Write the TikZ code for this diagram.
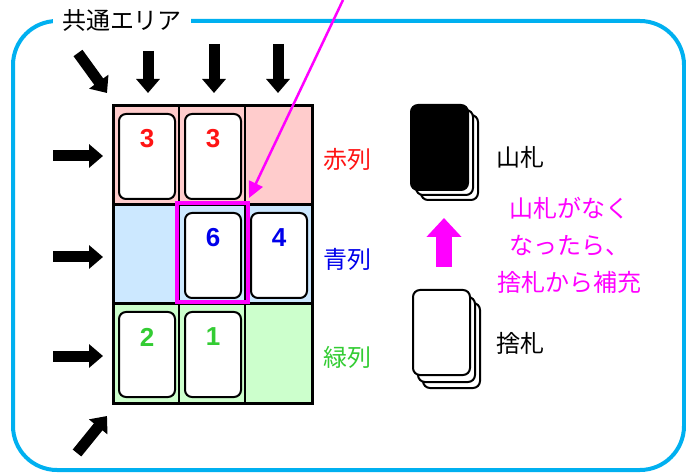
\documentclass[tikz,border=0pt]{standalone}
\usepackage{fontspec}
\newfontfamily\jp{Noto Sans CJK JP}
\newfontfamily\numf{Liberation Sans}
\usetikzlibrary{arrows.meta}
\definecolor{frameblue}{RGB}{0,176,240}
\definecolor{cellred}{RGB}{255,204,204}
\definecolor{cellblue}{RGB}{204,232,255}
\definecolor{cellgreen}{RGB}{204,255,204}
\definecolor{numred}{RGB}{255,20,20}
\definecolor{numblue}{RGB}{0,0,235}
\definecolor{numgreen}{RGB}{51,204,51}
\definecolor{mag}{RGB}{255,0,255}
\begin{document}
\begin{tikzpicture}[x=1pt,y=-1pt,
 cell/.style={draw=black, line width=1.5pt, minimum width=66pt, minimum height=99pt, inner sep=0pt, outer sep=0pt, anchor=north west},
 rowbox/.style={draw=black, line width=3pt},
 card/.style={draw=black, fill=white, line width=2pt, rounded corners=7pt, minimum width=56pt, minimum height=85pt, inner sep=0pt, anchor=north west},
 deckcard/.style={draw=black, fill=white, line width=2pt, rounded corners=7pt, minimum width=57pt, minimum height=85pt, inner sep=0pt, anchor=north west},
 num/.style={font=\numf\bfseries\fontsize{26}{26}\selectfont, inner sep=0pt},
 blk/.style={line width=11pt, -{Triangle[width=23pt,length=14pt]}},
 lbl/.style={font=\jp\fontsize{24}{24}\selectfont, inner sep=0pt},
]
\useasboundingbox (0,0) rectangle (686,473);
% frame
\draw[frameblue, line width=4pt, rounded corners=44pt] (13,21) rectangle (684,470);
\node[lbl, fill=white, inner xsep=9pt, inner ysep=3pt] (area) at (122,21) {共通エリア};
% cells
\node[cell, fill=cellred] (r1) at (113,106) {};
\node[cell, fill=cellred] (r2) at (179,106) {};
\node[cell, fill=cellred, minimum width=67pt] (r3) at (245,106) {};
\node[cell, fill=cellblue] (b1) at (113,205) {};
\node[cell, fill=cellblue] (b2) at (179,205) {};
\node[cell, fill=cellblue, minimum width=67pt] (b3) at (245,205) {};
\node[cell, fill=cellgreen] (g1) at (113,304) {};
\node[cell, fill=cellgreen] (g2) at (179,304) {};
\node[cell, fill=cellgreen, minimum width=67pt] (g3) at (245,304) {};
\draw[rowbox] (r1.north west) rectangle (r3.south east);
\draw[rowbox] (b1.north west) rectangle (b3.south east);
\draw[rowbox] (g1.north west) rectangle (g3.south east);
% cards
\node[card] (c11) at (118,113) {};
\node[card] (c12) at (184,113) {};
\node[card] (c22) at (184,212) {};
\node[card] (c23) at (250,212) {};
\node[card] (c31) at (118,311) {};
\node[card] (c32) at (184,311) {};
\node[num, text=numred] (n11) at ([yshift=-25.5pt]c11.north) {3};
\node[num, text=numred] (n12) at ([yshift=-25.5pt]c12.north) {3};
\node[num, text=numblue] (n22) at ([yshift=-26pt]c22.north) {6};
\node[num, text=numblue] (n23) at ([yshift=-26pt]c23.north) {4};
\node[num, text=numgreen] (n31) at ([yshift=-26pt]c31.north) {2};
\node[num, text=numgreen] (n32) at ([yshift=-26pt]c32.north) {1};
% highlight
\draw[mag, line width=3.5pt] (177,203) rectangle (248,302);
% row labels
\node[lbl, text=numred] (lr) at (347,159) {赤列};
\node[lbl, text=numblue] (lb) at (347,259) {青列};
\node[lbl, text=numgreen] (lg) at (347,357) {緑列};
% black arrows
\coordinate (d0) at (78,53); \coordinate (d1) at (107,93);
\coordinate (t10) at (148,51); \coordinate (t11) at (148,93);
\coordinate (t20) at (214,44); \coordinate (t21) at (214,93);
\coordinate (t30) at (278,44); \coordinate (t31) at (278,93);
\coordinate (l10) at (53,156); \coordinate (l11) at (103,156);
\coordinate (l20) at (53,257); \coordinate (l21) at (103,257);
\coordinate (l30) at (53,356); \coordinate (l31) at (103,356);
\coordinate (e0) at (77,453); \coordinate (e1) at (107,416);
\draw[blk] (d0) -- (d1);
\draw[blk] (t10) -- (t11);
\draw[blk] (t20) -- (t21);
\draw[blk] (t30) -- (t31);
\draw[blk] (l10) -- (l11);
\draw[blk] (l20) -- (l21);
\draw[blk] (l30) -- (l31);
\draw[blk] (e0) -- (e1);
% magenta pointer
\coordinate (p0) at (343,0); \coordinate (p1) at (249,198);
\draw[mag, line width=2.5pt, -{Triangle[width=15pt,length=16pt]}] (p0) -- (p1);
% decks
\node[deckcard] (y3) at (420,114) {};
\node[deckcard] (y2) at (415,109) {};
\node[deckcard, fill=black] (y1) at (410,104) {};
\node[deckcard] (s3) at (422,302) {};
\node[deckcard] (s2) at (417,296) {};
\node[deckcard] (s1) at (412,289) {};
\node[lbl] (yl) at (520,157) {山札};
\node[lbl] (sl) at (520,343) {捨札};
\coordinate (m0) at (444,267); \coordinate (m1) at (444,218);
\draw[mag, line width=16pt, -{Triangle[width=34pt,length=19pt]}] (m0) -- (m1);
\node[lbl, text=mag, align=center, font=\jp\fontsize{24}{37}\selectfont] (note) at (569,245) {山札がなく\\なったら、\\捨札から補充};
\end{tikzpicture}
\end{document}
